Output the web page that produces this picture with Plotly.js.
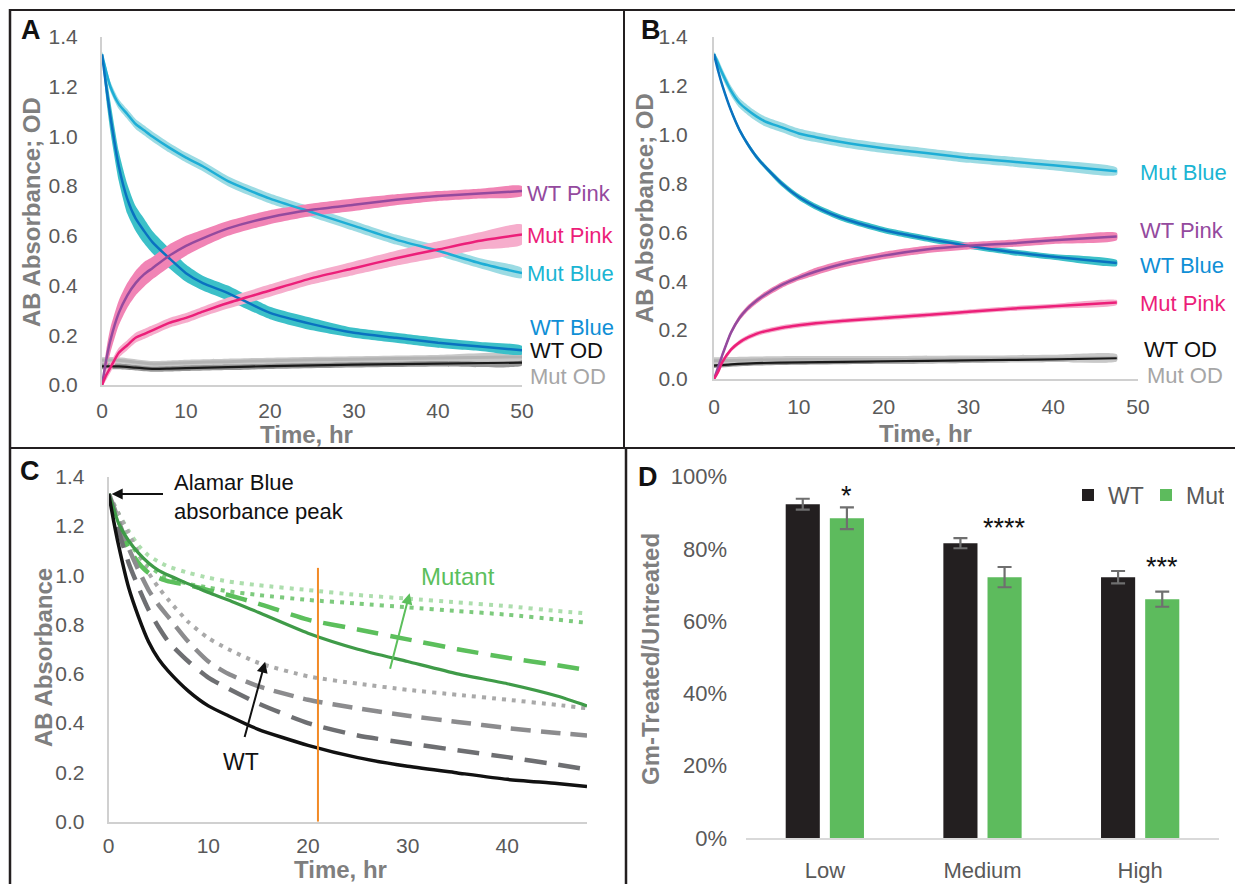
<!DOCTYPE html>
<html><head><meta charset="utf-8">
<script src="https://cdn.plot.ly/plotly-3.0.1.min.js"></script>
<style>html,body{margin:0;padding:0;background:#fff;overflow:hidden;}#chart{width:1235px;height:884px;}</style>
</head><body><div id="chart"></div>
<script>
// ---------- Panel A data ----------
const tA = [0,0.5,1,2,3,4,5,6,8,10,12,15,20,25,30,35,40,45,50];
const aMutBlue = [1.33,1.26,1.2,1.13,1.09,1.05,1.025,1.0,0.955,0.915,0.88,0.82,0.75,0.695,0.64,0.585,0.54,0.49,0.45];
const aMutBlueErr = [0.01,0.02,0.02,0.02,0.02,0.02,0.02,0.02,0.02,0.02,0.02,0.02,0.02,0.02,0.02,0.02,0.02,0.02,0.02];
const aWTBlue = [1.33,1.2,1.08,0.88,0.75,0.67,0.62,0.575,0.51,0.45,0.41,0.37,0.29,0.245,0.21,0.19,0.17,0.155,0.14];
const aWTBlueErr = [0.01,0.05,0.06,0.06,0.06,0.05,0.05,0.045,0.04,0.035,0.03,0.03,0.025,0.025,0.02,0.02,0.02,0.018,0.017];
const aWTPink = [0,0.1,0.18,0.29,0.36,0.41,0.445,0.47,0.52,0.56,0.59,0.63,0.675,0.705,0.725,0.745,0.76,0.77,0.78];
const aWTPinkErr = [0.01,0.04,0.05,0.05,0.05,0.05,0.05,0.045,0.045,0.04,0.035,0.03,0.028,0.025,0.025,0.022,0.02,0.02,0.02];
const aMutPink = [0,0.04,0.07,0.13,0.16,0.19,0.205,0.22,0.25,0.27,0.295,0.33,0.38,0.43,0.47,0.51,0.545,0.58,0.605];
const aMutPinkErr = [0.01,0.02,0.02,0.02,0.02,0.02,0.02,0.02,0.02,0.02,0.02,0.022,0.025,0.025,0.027,0.03,0.033,0.035,0.04];
const tAOD = [0,2,4,6,8,10,15,20,30,40,50];
const aWTOD = [0.075,0.075,0.07,0.065,0.066,0.068,0.072,0.076,0.082,0.086,0.09];
const aWTODErr = [0.012,0.012,0.012,0.012,0.012,0.012,0.012,0.012,0.012,0.012,0.012];
const aMutOD = [0.1,0.1,0.092,0.085,0.087,0.09,0.094,0.098,0.104,0.109,0.113];
const aMutODErr = [0.012,0.012,0.012,0.012,0.012,0.012,0.012,0.012,0.012,0.012,0.012];

// ---------- Panel B data ----------
const tB = [0,0.5,1,2,3,4,5,6,8,10,12,15,20,25,30,35,40,47.5];
const bMutBlue = [1.33,1.29,1.25,1.18,1.13,1.1,1.075,1.055,1.03,1.005,0.99,0.97,0.945,0.925,0.905,0.89,0.875,0.85];
const bMutBlueErr = [0.01,0.02,0.02,0.02,0.02,0.02,0.02,0.02,0.02,0.02,0.02,0.02,0.02,0.02,0.02,0.02,0.02,0.015];
const bWTBlue = [1.33,1.26,1.2,1.1,1.02,0.96,0.91,0.87,0.8,0.745,0.705,0.66,0.61,0.575,0.545,0.52,0.5,0.475];
const bWTBlueErr = [0.005,0.01,0.01,0.01,0.01,0.01,0.01,0.01,0.012,0.012,0.012,0.012,0.012,0.012,0.012,0.012,0.012,0.012];
const bWTPink = [0,0.05,0.1,0.19,0.25,0.29,0.32,0.345,0.385,0.415,0.44,0.47,0.505,0.53,0.545,0.555,0.568,0.583];
const bWTPinkErr = [0.005,0.01,0.01,0.01,0.012,0.012,0.012,0.012,0.012,0.012,0.015,0.015,0.015,0.015,0.015,0.015,0.015,0.015];
const bMutPink = [0,0.03,0.07,0.12,0.15,0.17,0.185,0.195,0.21,0.22,0.228,0.237,0.25,0.262,0.275,0.288,0.298,0.313];
const bMutPinkErr = [0.005,0.01,0.01,0.01,0.01,0.01,0.01,0.01,0.01,0.01,0.01,0.01,0.01,0.01,0.01,0.01,0.01,0.01];
const tBOD = [0,2,5,10,20,30,40,47.5];
const bWTOD = [0.055,0.06,0.065,0.068,0.072,0.076,0.08,0.085];
const bWTODErr = [0.01,0.01,0.01,0.01,0.01,0.01,0.01,0.01];
const bMutOD = [0.075,0.076,0.078,0.08,0.08,0.082,0.085,0.087];
const bMutODErr = [0.014,0.014,0.014,0.014,0.014,0.014,0.014,0.014];

// ---------- Panel C data ----------
const tC = [0,0.5,1,2,3,4,5,6,8,10,12,15,20,25,30,35,40,45,48];
const cWTSolid = [1.33,1.22,1.12,0.95,0.83,0.73,0.66,0.61,0.53,0.47,0.43,0.375,0.31,0.26,0.225,0.198,0.172,0.155,0.143];
const cWTDashDark = [1.33,1.26,1.18,1.05,0.95,0.86,0.79,0.73,0.65,0.585,0.54,0.48,0.4,0.35,0.318,0.29,0.262,0.232,0.212];
const cWTDashMid = [1.33,1.28,1.22,1.11,1.02,0.94,0.88,0.83,0.73,0.65,0.6,0.55,0.495,0.46,0.43,0.405,0.38,0.36,0.35];
const cWTDot = [1.33,1.29,1.25,1.17,1.09,1.01,0.95,0.9,0.81,0.745,0.7,0.645,0.59,0.56,0.535,0.515,0.495,0.474,0.46];
const cMutSolid = [1.33,1.27,1.21,1.14,1.09,1.05,1.02,1.0,0.965,0.93,0.9,0.85,0.765,0.70,0.65,0.6,0.56,0.51,0.47];
const cMutDash = [1.33,1.26,1.2,1.11,1.05,1.01,0.99,0.975,0.96,0.94,0.92,0.885,0.82,0.78,0.74,0.7,0.665,0.635,0.615];
const cMutDot = [1.33,1.27,1.22,1.14,1.08,1.04,1.01,0.99,0.965,0.95,0.935,0.92,0.9,0.885,0.87,0.855,0.84,0.82,0.807];
const cMutDotLight = [1.33,1.29,1.25,1.18,1.12,1.08,1.055,1.035,1.01,0.99,0.975,0.96,0.94,0.92,0.905,0.89,0.875,0.855,0.845];
const cMarkTime = 21;
const cMarkTop = 1.03;

// ---------- Panel D data ----------
const dCats = ['Low','Medium','High'];
const dWT = [0.924,0.816,0.722];
const dWTErr = [0.015,0.014,0.017];
const dMut = [0.885,0.722,0.661];
const dMutErr = [0.03,0.028,0.021];
const dStars = ['*','****','***'];
const dStarY = [0.967,0.877,0.77];

// ---------- helpers ----------
const W = 1235, H = 884;
const px = v => v / W;
const py = v => 1 - v / H;
const FAM = 'Liberation Sans, Arial, sans-serif';

function band(x, y, e, color, xa, ya) {
  const up = y.map((v, i) => v + e[i]);
  const lo = y.map((v, i) => v - e[i]);
  return {x: x.concat(x.slice().reverse()), y: up.concat(lo.slice().reverse()),
    xaxis: xa, yaxis: ya, type: 'scatter', mode: 'lines', fill: 'toself',
    fillcolor: color, line: {width: 0, shape: 'spline', smoothing: 0.6},
    hoverinfo: 'skip', showlegend: false};
}
function line(x, y, color, width, xa, ya, dash) {
  return {x: x, y: y, xaxis: xa, yaxis: ya, type: 'scatter', mode: 'lines',
    line: {color: color, width: width, shape: 'spline', smoothing: 0.6, dash: dash || 'solid'},
    showlegend: false};
}

const C = {
  mutBlueL: '#1eaed6', mutBlueB: '#9cdbe3',
  wtBlueL: '#0a72c0', wtBlueB: '#3cc0c8',
  wtPinkL: '#944a9e', wtPinkB: '#f184b5',
  mutPinkL: '#ec1f79', mutPinkB: '#f6adcc',
  wtODL: '#1a1a1a', wtODB: '#959595',
  mutODL: '#b3b3b3', mutODB: '#c8c8c8'
};

const traces = [];
// Panel A
traces.push(band(tAOD, aWTOD, aWTODErr, C.wtODB, 'x', 'y'));
traces.push(band(tAOD, aMutOD, aMutODErr, C.mutODB, 'x', 'y'));
traces.push(band(tA, aMutBlue, aMutBlueErr, C.mutBlueB, 'x', 'y'));
traces.push(band(tA, aWTBlue, aWTBlueErr, C.wtBlueB, 'x', 'y'));
traces.push(band(tA, aWTPink, aWTPinkErr, C.wtPinkB, 'x', 'y'));
traces.push(band(tA, aMutPink, aMutPinkErr, C.mutPinkB, 'x', 'y'));
traces.push(line(tAOD, aMutOD, C.mutODL, 3, 'x', 'y'));
traces.push(line(tAOD, aWTOD, C.wtODL, 2.2, 'x', 'y'));
traces.push(line(tA, aMutBlue, C.mutBlueL, 2.5, 'x', 'y'));
traces.push(line(tA, aWTBlue, C.wtBlueL, 2.5, 'x', 'y'));
traces.push(line(tA, aWTPink, C.wtPinkL, 2.5, 'x', 'y'));
traces.push(line(tA, aMutPink, C.mutPinkL, 2.5, 'x', 'y'));
// Panel B
traces.push(band(tBOD, bWTOD, bWTODErr, C.wtODB, 'x2', 'y2'));
traces.push(band(tBOD, bMutOD, bMutODErr, C.mutODB, 'x2', 'y2'));
traces.push(band(tB, bMutBlue, bMutBlueErr, C.mutBlueB, 'x2', 'y2'));
traces.push(band(tB, bWTBlue, bWTBlueErr, C.wtBlueB, 'x2', 'y2'));
traces.push(band(tB, bWTPink, bWTPinkErr, C.wtPinkB, 'x2', 'y2'));
traces.push(band(tB, bMutPink, bMutPinkErr, C.mutPinkB, 'x2', 'y2'));
traces.push(line(tBOD, bMutOD, C.mutODL, 3, 'x2', 'y2'));
traces.push(line(tBOD, bWTOD, C.wtODL, 2.2, 'x2', 'y2'));
traces.push(line(tB, bMutBlue, C.mutBlueL, 2.5, 'x2', 'y2'));
traces.push(line(tB, bWTBlue, C.wtBlueL, 2.5, 'x2', 'y2'));
traces.push(line(tB, bWTPink, C.wtPinkL, 2.5, 'x2', 'y2'));
traces.push(line(tB, bMutPink, C.mutPinkL, 2.5, 'x2', 'y2'));
// Panel C
traces.push(line(tC, cMutDotLight, '#addead', 4, 'x3', 'y3', '4px,6px'));
traces.push(line(tC, cMutDot, '#7dca7d', 4, 'x3', 'y3', '4px,6px'));
traces.push(line(tC, cWTDot, '#a9a9a9', 4, 'x3', 'y3', '4px,6px'));
traces.push(line(tC, cMutDash, '#5cbf5c', 4.5, 'x3', 'y3', '22px,12px'));
traces.push(line(tC, cWTDashMid, '#8c8c8e', 4.5, 'x3', 'y3', '20px,10px'));
traces.push(line(tC, cWTDashDark, '#6e6f72', 4.5, 'x3', 'y3', '22px,12px'));
traces.push(line(tC, cMutSolid, '#3f9b48', 3.2, 'x3', 'y3'));
traces.push(line(tC, cWTSolid, '#111111', 3.5, 'x3', 'y3'));
traces.push({x: [cMarkTime, cMarkTime], y: [0, cMarkTop], xaxis: 'x3', yaxis: 'y3', type: 'scatter', mode: 'lines',
  line: {color: '#f28a26', width: 2}, showlegend: false});
// Panel D
traces.push({type: 'bar', name: 'WT', x: dCats, y: dWT, xaxis: 'x4', yaxis: 'y4',
  marker: {color: '#231f20'},
  error_y: {type: 'data', array: dWTErr, visible: true, color: '#6f6f6f', thickness: 2.2, width: 7}});
traces.push({type: 'bar', name: 'Mut', x: dCats, y: dMut, xaxis: 'x4', yaxis: 'y4',
  marker: {color: '#5dbb5d'},
  error_y: {type: 'data', array: dMutErr, visible: true, color: '#6f6f6f', thickness: 2.2, width: 7}});

const tickFont = {family: FAM, size: 21, color: '#595959'};
const axLine = {showline: true, linecolor: '#d0d0d0', linewidth: 2, showgrid: false, zeroline: false, ticks: ''};

const layout = {
  width: W, height: H, margin: {l: 0, r: 0, t: 0, b: 0, autoexpand: false},
  paper_bgcolor: '#fff', plot_bgcolor: 'rgba(0,0,0,0)',
  font: {family: FAM},
  showlegend: true,
  bargap: 0.44, bargroupgap: 0.227, barmode: 'group',
  xaxis: Object.assign({}, axLine, {domain: [px(102), px(522)], range: [0, 50], dtick: 10, anchor: 'y', tickfont: tickFont, ticklabelstandoff: 6}),
  yaxis: Object.assign({}, axLine, {domain: [py(385), py(37)], range: [0, 1.4], dtick: 0.2, tickformat: '.1f', anchor: 'x', tickfont: tickFont, ticklabelstandoff: 18}),
  xaxis2: Object.assign({}, axLine, {domain: [px(714), px(1138)], range: [0, 50], dtick: 10, anchor: 'y2', tickfont: tickFont, ticklabelstandoff: 8}),
  yaxis2: Object.assign({}, axLine, {domain: [py(379), py(37)], range: [0, 1.4], dtick: 0.2, tickformat: '.1f', anchor: 'x2', tickfont: tickFont, ticklabelstandoff: 20}),
  xaxis3: Object.assign({}, axLine, {domain: [px(108.7), px(587)], range: [0, 48], dtick: 10, anchor: 'y3', tickfont: tickFont, ticklabelstandoff: 4}),
  yaxis3: Object.assign({}, axLine, {domain: [py(821.7), py(476.7)], range: [0, 1.4], dtick: 0.2, tickformat: '.1f', anchor: 'x3', tickfont: tickFont, ticklabelstandoff: 18}),
  xaxis4: Object.assign({}, axLine, {domain: [px(746), px(1219)], type: 'category', range: [-0.5, 2.5], anchor: 'y4', linecolor: '#d9d9d9', tickfont: Object.assign({}, tickFont, {size: 22}), ticklabelstandoff: 12}),
  yaxis4: {domain: [py(838), py(476.7)], range: [0, 1], dtick: 0.2, tickformat: '.0%', anchor: 'x4', showline: false, showgrid: false, zeroline: false, ticks: '', tickfont: Object.assign({}, tickFont, {size: 22}), ticklabelstandoff: 18},
  legend: {orientation: 'h', x: px(1068), y: py(495), xanchor: 'left', yanchor: 'middle',
    font: {size: 23, color: '#595959'}, itemwidth: 30, entrywidth: 33, entrywidthmode: 'pixels',
    bgcolor: 'rgba(0,0,0,0)', traceorder: 'normal'},
  shapes: [
    {type: 'line', xref: 'paper', yref: 'paper', x0: px(9), x1: 1, y0: py(10), y1: py(10), line: {color: '#231f20', width: 2}},
    {type: 'line', xref: 'paper', yref: 'paper', x0: px(10), x1: px(10), y0: py(9), y1: 0, line: {color: '#231f20', width: 2.5}},
    {type: 'line', xref: 'paper', yref: 'paper', x0: px(624), x1: px(624), y0: py(10), y1: py(448), line: {color: '#231f20', width: 2}},
    {type: 'line', xref: 'paper', yref: 'paper', x0: px(10), x1: 1, y0: py(448), y1: py(448), line: {color: '#231f20', width: 2}},
    {type: 'line', xref: 'paper', yref: 'paper', x0: px(626), x1: px(626), y0: py(448), y1: 0, line: {color: '#231f20', width: 2.5}}
  ],
  annotations: []
};

const ann = layout.annotations;
function txt(x, y, text, opts) {
  ann.push(Object.assign({x: x, y: y, xref: 'paper', yref: 'paper', text: text, showarrow: false,
    xanchor: 'center', yanchor: 'middle', font: {size: 22, color: '#000'}}, opts || {}));
}
const letterFont = {family: FAM, size: 27, color: '#111'};
txt(px(31), py(30), '<b>A</b>', {font: letterFont});
txt(px(651), py(30), '<b>B</b>', {font: letterFont});
txt(px(30), py(471), '<b>C</b>', {font: letterFont});
txt(px(648), py(477), '<b>D</b>', {font: letterFont});

const titleFont = {size: 24, color: '#7f7f7f'};
txt(px(306), py(434), '<b>Time, hr</b>', {font: titleFont});
txt(px(926), py(433), '<b>Time, hr</b>', {font: titleFont});
txt(px(340), py(869), '<b>Time, hr</b>', {font: titleFont});
txt(px(31), py(212), '<b>AB Absorbance; OD</b>', {font: titleFont, textangle: -90});
txt(px(644), py(208), '<b>AB Absorbance; OD</b>', {font: titleFont, textangle: -90});
txt(px(43), py(658), '<b>AB Absorbance</b>', {font: titleFont, textangle: -90});
txt(px(650), py(659), '<b>Gm-Treated/Untreated</b>', {font: titleFont, textangle: -90});

// series labels A & B (data coordinates)
function lab(xa, ya, x, y, text, color, shift) {
  ann.push({x: x, y: y, xref: xa, yref: ya, text: text, showarrow: false, xanchor: 'left', yanchor: 'middle',
    xshift: shift || 0, font: {size: 22, color: color}});
}
lab('x', 'y', 50, 0.772, 'WT Pink', '#944a9e', 3);
lab('x', 'y', 50, 0.603, 'Mut Pink', '#ec1e79', 3);
lab('x', 'y', 50, 0.45, 'Mut Blue', '#1bb5d3', 3);
lab('x', 'y', 50, 0.233, 'WT Blue', '#0f8fd6', 6);
lab('x', 'y', 50, 0.139, 'WT OD', '#111', 6);
lab('x', 'y', 50, 0.034, 'Mut OD', '#a6a6a6', 6);
lab('x2', 'y2', 50, 0.846, 'Mut Blue', '#1bb5d3', 0);
lab('x2', 'y2', 50, 0.609, 'WT Pink', '#944a9e', 0);
lab('x2', 'y2', 50, 0.466, 'WT Blue', '#0f8fd6', 0);
lab('x2', 'y2', 50, 0.311, 'Mut Pink', '#ec1e79', 0);
lab('x2', 'y2', 50, 0.119, 'WT OD', '#111', 4);
lab('x2', 'y2', 50, 0.016, 'Mut OD', '#a6a6a6', 7);

// Panel C annotations
ann.push({xref: 'x3', yref: 'y3', axref: 'x3', ayref: 'y3', x: 0.3, y: 1.33, ax: 5.6, ay: 1.33, text: '',
  showarrow: true, arrowhead: 2, arrowsize: 1.1, arrowwidth: 2, arrowcolor: '#111'});
ann.push({xref: 'paper', yref: 'paper', x: px(172), y: py(497), xanchor: 'left', yanchor: 'middle', align: 'left',
  text: 'Alamar Blue<br>absorbance peak', showarrow: false, font: {size: 22, color: '#111'}});
ann.push({xref: 'x3', yref: 'y3', axref: 'x3', ayref: 'y3', x: 15.7, y: 0.649, ax: 13.6, ay: 0.338, text: '',
  showarrow: true, arrowhead: 2, arrowsize: 1.1, arrowwidth: 2, arrowcolor: '#111'});
ann.push({xref: 'x3', yref: 'y3', x: 13.3, y: 0.242, text: 'WT', showarrow: false, font: {size: 23, color: '#111'}});
ann.push({xref: 'x3', yref: 'y3', axref: 'x3', ayref: 'y3', x: 30.2, y: 0.927, ax: 28.2, ay: 0.615, text: '',
  showarrow: true, arrowhead: 2, arrowsize: 1.1, arrowwidth: 2, arrowcolor: '#5cbf5c'});
ann.push({xref: 'x3', yref: 'y3', x: 35.1, y: 0.997, text: 'Mutant', showarrow: false, font: {size: 24, color: '#5cbf5c'}});

// Panel D stars
const slot = (1 - layout.bargap) / 2;
dStars.forEach((s, i) => {
  ann.push({xref: 'x4', yref: 'y4', x: i + slot / 2, y: dStarY[i], text: s, showarrow: false,
    yanchor: 'middle', yshift: -7, font: {size: 27, color: '#111'}});
});

Plotly.newPlot('chart', traces, layout, {staticPlot: true});
</script>
</body></html>
